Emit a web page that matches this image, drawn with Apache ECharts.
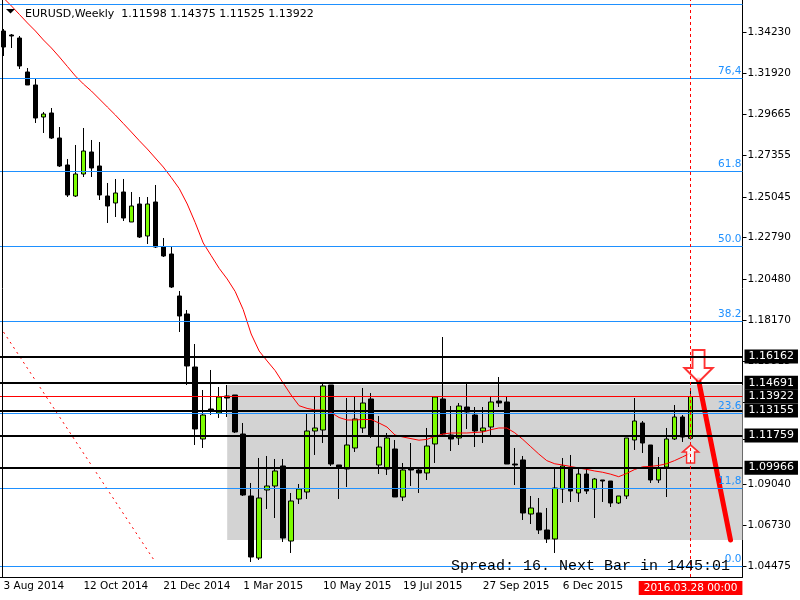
<!DOCTYPE html>
<html>
<head>
<meta charset="utf-8">
<title>EURUSD Weekly</title>
<script src="https://cdn.jsdelivr.net/npm/echarts@6.0.0/dist/echarts.min.js"></script>
<style>
    html, body { margin: 0; padding: 0; background: #fff; }
    #chart { width: 800px; height: 600px; }
</style>
</head>
<body>
<div id="chart"></div>
<script>
// weekly candles, first bar = week of 3 Aug 2014
var opens = [1.34286, 1.34064, 1.33896, 1.32003, 1.31279, 1.29496, 1.29719, 1.28326, 1.26823, 1.25096,
    1.26321, 1.27547, 1.26767, 1.25096, 1.24706, 1.25319, 1.23648, 1.24650, 1.22868, 1.24762,
    1.22255, 1.21865, 1.19526, 1.18523, 1.15571, 1.11561, 1.13232, 1.13009, 1.13956, 1.14012,
    1.11839, 1.08386, 1.04932, 1.08720, 1.08943, 1.10057, 1.05879, 1.08219, 1.08609, 1.12006,
    1.12062, 1.14569, 1.10113, 1.09890, 1.11060, 1.12174, 1.13789, 1.10113, 1.09890, 1.11004,
    1.08330, 1.09890, 1.09834, 1.09667, 1.11283, 1.13789, 1.11784, 1.11617, 1.13343, 1.12898,
    1.12006, 1.12229, 1.13677, 1.13622, 1.10168, 1.10393, 1.07383, 1.07439, 1.06492, 1.05991,
    1.08776, 1.09890, 1.08553, 1.09611, 1.08776, 1.09277, 1.09221, 1.07996, 1.08386, 1.11505,
    1.12452, 1.11227, 1.09277, 1.10001, 1.11561, 1.12786, 1.11598];
var closes = [1.33395, 1.34008, 1.32337, 1.31279, 1.29441, 1.29663, 1.28326, 1.26767, 1.25152, 1.26321,
    1.27602, 1.26656, 1.25152, 1.24539, 1.25263, 1.23870, 1.24539, 1.22812, 1.24650, 1.22255,
    1.21754, 1.20027, 1.18412, 1.15627, 1.12118, 1.12898, 1.13120, 1.13900, 1.13844, 1.11951,
    1.08442, 1.04988, 1.08275, 1.08943, 1.09779, 1.06046, 1.08108, 1.08776, 1.12006, 1.12174,
    1.14513, 1.10168, 1.09946, 1.11227, 1.12675, 1.13566, 1.11728, 1.11115, 1.11617, 1.08330,
    1.09834, 1.09834, 1.09667, 1.11171, 1.13900, 1.11839, 1.11561, 1.13399, 1.13065, 1.12006,
    1.12174, 1.13622, 1.13566, 1.10168, 1.10113, 1.07439, 1.07717, 1.06492, 1.05991, 1.08831,
    1.10057, 1.08664, 1.09611, 1.08664, 1.09333, 1.09221, 1.07996, 1.08386, 1.11617, 1.12563,
    1.11338, 1.09277, 1.09946, 1.11561, 1.12786, 1.11672, 1.13922];
var lows = [1.32894, 1.33339, 1.32170, 1.31279, 1.29162, 1.28605, 1.28271, 1.26711, 1.25040, 1.25040,
    1.26154, 1.26154, 1.24873, 1.23592, 1.23926, 1.23703, 1.23648, 1.22757, 1.22422, 1.22199,
    1.21698, 1.19971, 1.17521, 1.14569, 1.11227, 1.11060, 1.12898, 1.12731, 1.12786, 1.11895,
    1.08386, 1.04710, 1.04821, 1.07662, 1.07160, 1.05824, 1.05211, 1.07941, 1.08219, 1.10670,
    1.11338, 1.10057, 1.08219, 1.08887, 1.10837, 1.11895, 1.11617, 1.09611, 1.09556, 1.08330,
    1.08108, 1.08943, 1.08553, 1.09277, 1.10224, 1.11672, 1.10893, 1.11227, 1.12118, 1.11115,
    1.11338, 1.11728, 1.13343, 1.10168, 1.08998, 1.07049, 1.06826, 1.06269, 1.05768, 1.05211,
    1.07996, 1.08052, 1.08052, 1.08497, 1.07160, 1.08052, 1.07774, 1.07941, 1.08219, 1.10948,
    1.10781, 1.09110, 1.09110, 1.08330, 1.11505, 1.11394, 1.11525];
var highs = [1.34398, 1.34119, 1.34008, 1.32225, 1.31668, 1.29775, 1.29997, 1.28939, 1.27157, 1.27937,
    1.28884, 1.28215, 1.28104, 1.25820, 1.26043, 1.26043, 1.25319, 1.25040, 1.25040, 1.25709,
    1.22757, 1.22255, 1.19804, 1.18746, 1.16852, 1.14290, 1.15404, 1.14457, 1.14569, 1.14012,
    1.12452, 1.09110, 1.10503, 1.10614, 1.10447, 1.10447, 1.08553, 1.09054, 1.12953, 1.13956,
    1.14736, 1.14569, 1.10113, 1.13844, 1.13900, 1.14402, 1.14123, 1.12842, 1.11895, 1.11505,
    1.10224, 1.11338, 1.10001, 1.12174, 1.13900, 1.17242, 1.13399, 1.13566, 1.14736, 1.13343,
    1.13343, 1.13956, 1.15014, 1.13900, 1.11060, 1.10614, 1.08386, 1.08275, 1.07717, 1.09946,
    1.10503, 1.10670, 1.09946, 1.09890, 1.09389, 1.09277, 1.09221, 1.08386, 1.11617, 1.13844,
    1.12563, 1.11227, 1.10558, 1.12174, 1.13455, 1.12898, 1.14375];
// red moving average
var maValues = [1.36124, 1.35679, 1.35205, 1.34732, 1.34286, 1.33785, 1.33339, 1.32838, 1.32309, 1.31780,
    1.31334, 1.30944, 1.30499, 1.30053, 1.29608, 1.29134, 1.28661, 1.28176, 1.27714, 1.27212,
    1.26711, 1.26126, 1.25508, 1.24650, 1.23609, 1.22478, 1.21771, 1.21063, 1.20473, 1.19777,
    1.18769, 1.17409, 1.16462, 1.15906, 1.15371, 1.14680, 1.14012, 1.13416, 1.13265, 1.13176,
    1.13176, 1.13037, 1.12758, 1.12619, 1.12619, 1.12647, 1.12647, 1.12452, 1.12229, 1.11784,
    1.11672, 1.11583, 1.11494, 1.11539, 1.11706, 1.11839, 1.11895, 1.11895, 1.11895, 1.11923,
    1.11951, 1.12079, 1.12174, 1.12174, 1.11906, 1.11539, 1.11132, 1.10725, 1.10357, 1.10180,
    1.10113, 1.10029, 1.09946, 1.09868, 1.09779, 1.09707, 1.09601, 1.09462, 1.09640, 1.09862,
    1.10013, 1.10035, 1.10085, 1.10185, 1.10357, 1.10563, 1.10781];

var xTickLabels = ['3 Aug 2014', '12 Oct 2014', '21 Dec 2014', '1 Mar 2015', '10 May 2015',
    '19 Jul 2015', '27 Sep 2015', '6 Dec 2015'];
var yTicks = [1.34230, 1.31920, 1.29665, 1.27355, 1.25045, 1.22790, 1.20480, 1.18170,
    1.15915, 1.13605, 1.11530, 1.09040, 1.06730, 1.04475];
var yTickLabels = [1.34230, 1.31920, 1.29665, 1.27355, 1.25045, 1.22790, 1.20480, 1.18170,
    1.15915, 1.11530, 1.09040, 1.06730, 1.04475];

var fibNames = ['', '76,4', '61.8', '50.0', '38.2', '23.6', '11,8', '0.0'];
var fibPrices = [1.35790, 1.31668, 1.26488, 1.22311, 1.18133, 1.13009, 1.08831, 1.04487];
var levelPrices = [1.16162, 1.14691, 1.13155, 1.11759, 1.09966];
var bidPrice = 1.13922;

var boxZone = [[28, 1.14569, 1.05933]];
var downTrend = [[0, 1.17521], [19, 1.04710]];
var forecast = [[87, 1.14847], [91, 1.05933]];
var downArrow = [[87, 1.15627]];
var upArrow = [[86, 1.10725]];

var barCount = 93;
var font = 'DejaVu Sans';

var weeks = [];
for (var i = 0; i < barCount; i++) {
    weeks.push('w' + i);
}
var candles = [];
for (var i = 0; i < opens.length; i++) {
    candles.push([opens[i], closes[i], lows[i], highs[i]]);
}

function boxLabel(text) {
    return {
        show: true,
        position: 'end',
        formatter: text,
        distance: 2,
        color: '#fff',
        backgroundColor: '#000',
        padding: [2, 4, 1, 4],
        fontFamily: font,
        fontSize: 11
    };
}

var lines = [];
for (var i = 0; i < fibPrices.length; i++) {
    lines.push({
        yAxis: fibPrices[i],
        lineStyle: { color: '#1e90ff', width: 1, type: 'solid' },
        label: {
            show: fibNames[i] !== '',
            position: 'insideEndTop',
            formatter: fibNames[i],
            distance: 1,
            color: '#1e90ff',
            fontFamily: font,
            fontSize: 10.5
        }
    });
}
for (var i = 0; i < levelPrices.length; i++) {
    lines.push({
        yAxis: levelPrices[i],
        lineStyle: { color: '#000', width: 2, type: 'solid' },
        label: boxLabel(levelPrices[i].toFixed(5))
    });
}
lines.push({
    yAxis: bidPrice,
    lineStyle: { color: '#ff0000', width: 1, type: 'solid' },
    label: boxLabel(bidPrice.toFixed(5))
});
lines.push({
    xAxis: weeks[86],
    lineStyle: { color: '#ff0000', width: 1, type: [3, 3] },
    label: {
        show: true,
        position: 'start',
        formatter: '2016.03.28 00:00',
        distance: 4,
        color: '#fff',
        backgroundColor: '#ff0000',
        padding: [2, 5, 1, 5],
        fontFamily: font,
        fontSize: 10.5
    }
});

var chart = echarts.init(document.getElementById('chart'));
var option = {
    animation: false,
    backgroundColor: '#fff',
    title: {
        text: 'EURUSD,Weekly  1.11598 1.14375 1.11525 1.13922',
        left: 20,
        top: 4,
        textStyle: { fontFamily: font, fontSize: 11, fontWeight: 'normal', color: '#000' }
    },
    graphic: [
        { type: 'polygon', shape: { points: [[6, 9], [15, 9], [10.5, 13.5]] }, style: { fill: '#000' }, z: 100 },
        { type: 'line', shape: { x1: 2.5, y1: 0, x2: 2.5, y2: 577 }, style: { stroke: '#000', lineWidth: 1 }, z: 100 },
        {
            type: 'text', x: 730, y: 566, z: 100,
            style: {
                text: 'Spread: 16. Next Bar in 1445:01',
                fontFamily: 'Liberation Mono', fontSize: 15,
                fill: '#000', align: 'right', verticalAlign: 'middle'
            }
        }
    ],
    grid: { left: -0.5, top: 0, right: 57.5, bottom: 23, outerBoundsMode: 'none' },
    xAxis: {
        type: 'category',
        data: weeks,
        boundaryGap: true,
        axisLine: { lineStyle: { color: '#000' } },
        axisTick: {
            alignWithLabel: true,
            length: 4,
            interval: function (idx) { return idx % 10 === 0 && idx <= 80; },
            lineStyle: { color: '#000' }
        },
        axisLabel: {
            interval: function (idx) { return idx % 10 === 0 && idx < 80; },
            formatter: function (v, idx) { return xTickLabels[idx / 10] || ''; },
            align: 'left',
            margin: 4,
            color: '#000',
            fontFamily: font,
            fontSize: 10.5
        },
        splitLine: { show: false }
    },
    yAxis: {
        type: 'value',
        position: 'right',
        min: 1.03874,
        max: 1.36013,
        axisLine: { show: true, lineStyle: { color: '#000' } },
        axisTick: { show: true, length: 4, customValues: yTicks, lineStyle: { color: '#000' } },
        axisLabel: {
            customValues: yTickLabels,
            formatter: function (v) { return v.toFixed(5); },
            margin: 5,
            color: '#000',
            fontFamily: font,
            fontSize: 10.5
        },
        splitLine: { show: false }
    },
    series: [
        {
            name: 'zone',
            type: 'custom',
            z: 1,
            data: boxZone,
            renderItem: function (params, api) {
                var a = api.coord([api.value(0), api.value(1)]);
                var b = api.coord([api.value(0), api.value(2)]);
                var cs = params.coordSys;
                return {
                    type: 'rect',
                    shape: { x: a[0], y: a[1], width: cs.x + cs.width - a[0], height: b[1] - a[1] },
                    style: { fill: '#d3d3d3' }
                };
            }
        },
        {
            name: 'EURUSD',
            type: 'candlestick',
            z: 2,
            barWidth: 5,
            data: candles,
            itemStyle: {
                color: '#7cfc00',
                color0: '#000',
                borderColor: '#000',
                borderColor0: '#000',
                borderColorDoji: '#000',
                borderWidth: 1
            },
            markLine: {
                silent: true,
                symbol: 'none',
                precision: 5,
                animation: false,
                data: lines
            }
        },
        {
            name: 'MA',
            type: 'line',
            z: 3,
            data: maValues,
            showSymbol: false,
            lineStyle: { color: '#ff0000', width: 1 }
        },
        {
            name: 'trend',
            type: 'line',
            z: 3,
            data: downTrend,
            showSymbol: false,
            lineStyle: { color: '#ff0000', width: 1, type: [2, 4] }
        },
        {
            name: 'forecast',
            type: 'line',
            z: 4,
            data: forecast,
            showSymbol: false,
            lineStyle: { color: '#ff0000', width: 5, cap: 'round' }
        },
        {
            name: 'sell',
            type: 'scatter',
            z: 4,
            data: downArrow,
            symbol: 'path://M8,0 L20,0 L20,18 L28,18 L14,32 L0,18 L8,18 Z',
            symbolSize: [28, 32],
            itemStyle: { color: '#fff', borderColor: '#ff0000', borderWidth: 2 }
        },
        {
            name: 'buy',
            type: 'scatter',
            z: 4,
            data: upArrow,
            symbol: 'path://M8,0 L16,7 L12,7 L12,18 L4,18 L4,7 L0,7 Z',
            symbolSize: [16, 18],
            itemStyle: { color: '#fff', borderColor: '#ff0000', borderWidth: 1.5 }
        }
    ]
};
chart.setOption(option);
</script>
</body>
</html>
